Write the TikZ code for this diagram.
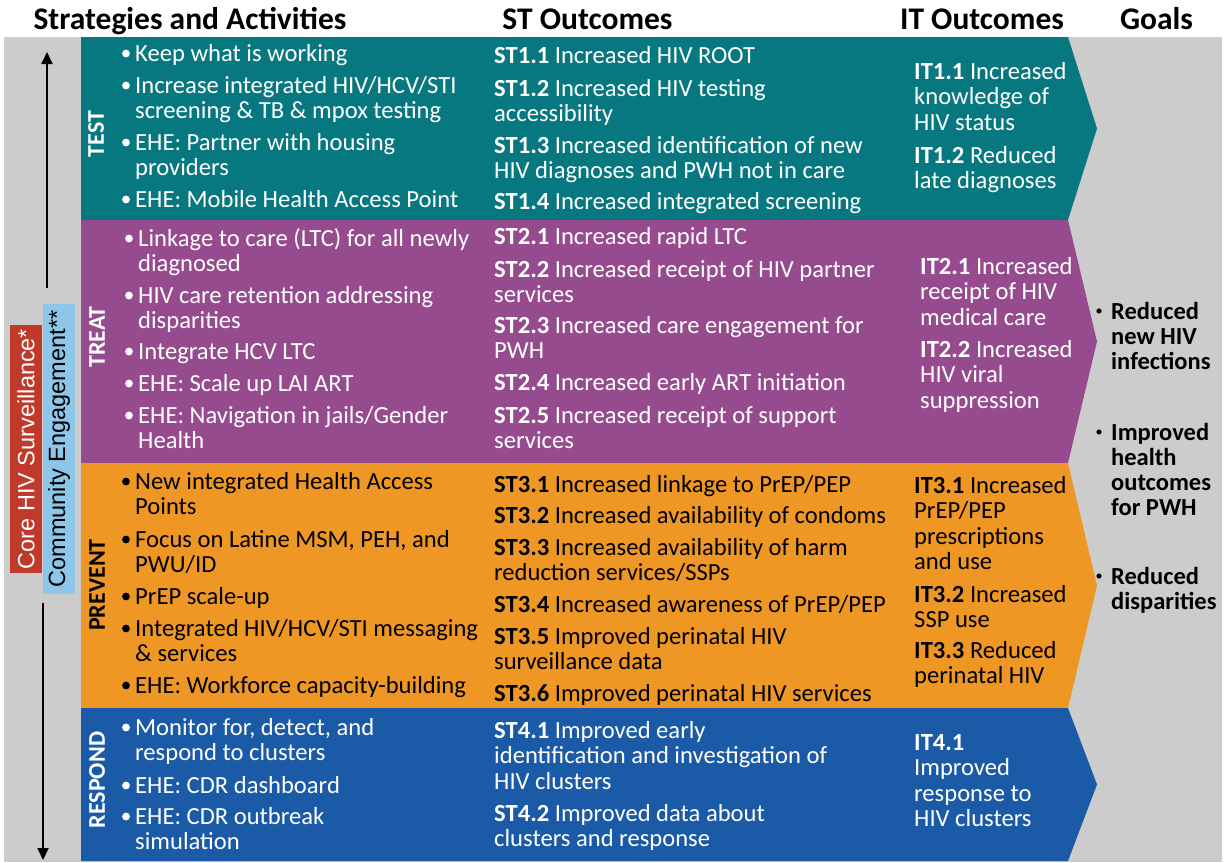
\documentclass[tikz,border=0pt]{standalone}
\usepackage{fontspec}
\setmainfont{Carlito}
\newfontfamily\arialf{Liberation Sans}
\usetikzlibrary{arrows.meta}
\definecolor{bggray}{RGB}{204,204,204}
\definecolor{bandteal}{RGB}{8,120,128}
\definecolor{bandpurple}{RGB}{151,75,143}
\definecolor{bandorange}{RGB}{239,151,36}
\definecolor{bandblue}{RGB}{26,90,166}
\definecolor{sidered}{RGB}{192,57,43}
\definecolor{sideblue}{RGB}{142,198,234}
\newcommand\bb[3]{\fill[#3] ({#1-9},{#2-7.5}) circle[radius=3.9pt];}
\newcommand\gb[2]{\fill[black] ({#1-12},{#2-8}) circle[radius=2.6pt];}
\newcommand\ml[1]{\vtop{\let\\\cr\halign{##\hfil\cr#1\crcr}}}
\tikzset{
  body/.style={anchor=base west, inner sep=0pt, font=\fontsize{24.6}{25.5}\selectfont},
  wtxt/.style={body, text=white},
  ktxt/.style={body, text=black},
  headtxt/.style={anchor=base, inner sep=0pt, font=\bfseries\fontsize{31.5}{32}\selectfont},
  bandlabel/.style={rotate=90, inner sep=0pt, font=\bfseries\fontsize{24}{24}\selectfont},
  goaltxt/.style={anchor=base west, inner sep=0pt, font=\bfseries\fontsize{24.5}{25}\selectfont},
  sidebox/.style={rotate=90, inner sep=0pt, minimum height=32pt, font=\arialf\fontsize{23.5}{24}\selectfont},
  vline/.style={line width=1.8pt, -{Triangle[length=12pt,width=11pt]}},
}
\begin{document}
\begin{tikzpicture}[x=1pt,y=-1pt]
\useasboundingbox (0,0) rectangle (1231,862);
\fill[white] (0,0) rectangle (1231,862);
\fill[bggray] (4,37) rectangle (1222,862);
% bands
\fill[bandteal] (81,37) -- (1068,37) -- (1097,128.5) -- (1068,220) -- (81,220) -- cycle;
\fill[bandpurple] (81,220) -- (1068,220) -- (1097,341.5) -- (1068,463) -- (81,463) -- cycle;
\fill[bandorange] (81,463) -- (1068,463) -- (1097,585.5) -- (1068,708) -- (81,708) -- cycle;
\fill[bandblue] (81,708) -- (1068,708) -- (1097,784.5) -- (1068,861) -- (81,861) -- cycle;
% headers
\node[headtxt] (h1) at (190,29) {Strategies and Activities};
\node[headtxt] (h2) at (587.5,29) {ST Outcomes};
\node[headtxt] (h3) at (982,29) {IT Outcomes};
\node[headtxt] (h4) at (1156.5,29) {Goals};
% side boxes and arrows
\node[sidebox, fill=sidered, text=white, minimum width=248pt] (surv) at (26,449) {Core HIV Surveillance*};
\node[sidebox, fill=sideblue, text=black, minimum width=290pt] (comm) at (59,449) {Community Engagement**};
\coordinate (upfrom) at (47,288);
\coordinate (upto) at (47,52);
\coordinate (dnfrom) at (43,603);
\coordinate (dnto) at (43,860);
\draw[vline] (upfrom) -- (upto);
\draw[vline] (dnfrom) -- (dnto);
% band labels
\node[bandlabel, text=white] (lTest) at (96,134) {TEST};
\node[bandlabel, text=white] (lTreat) at (97,337) {TREAT};
\node[bandlabel, text=black] (lPrev) at (97,585) {PREVENT};
\node[bandlabel, text=white] (lResp) at (97,780) {RESPOND};
% TEST strategies
\node[wtxt] (s11) at (135,61) {\ml{Keep what is working}}; \bb{135}{61}{white}
\node[wtxt] (s12) at (135,93) {\ml{Increase integrated HIV/HCV/STI\\screening \& TB \& mpox testing}}; \bb{135}{93}{white}
\node[wtxt] (s13) at (135,150) {\ml{EHE: Partner with housing\\providers}}; \bb{135}{150}{white}
\node[wtxt] (s14) at (135,207) {\ml{EHE: Mobile Health Access Point}}; \bb{135}{207}{white}
% TREAT strategies
\node[wtxt] (s21) at (138,246) {\ml{Linkage to care (LTC) for all newly\\diagnosed}}; \bb{138}{246}{white}
\node[wtxt] (s22) at (138,303) {\ml{HIV care retention addressing\\disparities}}; \bb{138}{303}{white}
\node[wtxt] (s23) at (138,359) {\ml{Integrate HCV LTC}}; \bb{138}{359}{white}
\node[wtxt] (s24) at (138,391) {\ml{EHE: Scale up LAI ART}}; \bb{138}{391}{white}
\node[wtxt] (s25) at (138,423) {\ml{EHE: Navigation in jails/Gender\\Health}}; \bb{138}{423}{white}
% PREVENT strategies
\node[ktxt] (s31) at (135,489) {\ml{New integrated Health Access\\Points}}; \bb{135}{489}{black}
\node[ktxt] (s32) at (135,547) {\ml{Focus on Latine MSM, PEH, and\\PWU/ID}}; \bb{135}{547}{black}
\node[ktxt] (s33) at (135,604) {\ml{PrEP scale-up}}; \bb{135}{604}{black}
\node[ktxt] (s34) at (135,636) {\ml{Integrated HIV/HCV/STI messaging\\\& services}}; \bb{135}{636}{black}
\node[ktxt] (s35) at (135,693) {\ml{EHE: Workforce capacity-building}}; \bb{135}{693}{black}
% RESPOND strategies
\node[wtxt] (s41) at (135,735) {\ml{Monitor for, detect, and\\respond to clusters}}; \bb{135}{735}{white}
\node[wtxt] (s42) at (135,793) {\ml{EHE: CDR dashboard}}; \bb{135}{793}{white}
\node[wtxt] (s43) at (135,824) {\ml{EHE: CDR outbreak\\simulation}}; \bb{135}{824}{white}
% ST outcomes
\node[wtxt] (st11) at (494,63) {\ml{\textbf{ST1.1} Increased HIV ROOT}};
\node[wtxt] (st12) at (494,96) {\ml{\textbf{ST1.2} Increased HIV testing\\accessibility}};
\node[wtxt] (st13) at (494,153) {\ml{\textbf{ST1.3} Increased identification of new\\HIV diagnoses and PWH not in care}};
\node[wtxt] (st14) at (494,209) {\ml{\textbf{ST1.4} Increased integrated screening}};
\node[wtxt] (st21) at (494,244) {\ml{\textbf{ST2.1} Increased rapid LTC}};
\node[wtxt] (st22) at (494,277) {\ml{\textbf{ST2.2} Increased receipt of HIV partner\\services}};
\node[wtxt] (st23) at (494,333) {\ml{\textbf{ST2.3} Increased care engagement for\\PWH}};
\node[wtxt] (st24) at (494,390) {\ml{\textbf{ST2.4} Increased early ART initiation}};
\node[wtxt] (st25) at (494,423) {\ml{\textbf{ST2.5} Increased receipt of support\\services}};
\node[ktxt] (st31) at (494,492) {\ml{\textbf{ST3.1} Increased linkage to PrEP/PEP}};
\node[ktxt] (st32) at (494,523) {\ml{\textbf{ST3.2} Increased availability of condoms}};
\node[ktxt] (st33) at (494,555) {\ml{\textbf{ST3.3} Increased availability of harm\\reduction services/SSPs}};
\node[ktxt] (st34) at (494,612) {\ml{\textbf{ST3.4} Increased awareness of PrEP/PEP}};
\node[ktxt] (st35) at (494,644) {\ml{\textbf{ST3.5} Improved perinatal HIV\\surveillance data}};
\node[ktxt] (st36) at (494,701) {\ml{\textbf{ST3.6} Improved perinatal HIV services}};
\node[wtxt] (st41) at (494,738) {\ml{\textbf{ST4.1} Improved early\\identification and investigation of\\HIV clusters}};
\node[wtxt] (st42) at (494,821) {\ml{\textbf{ST4.2} Improved data about\\clusters and response}};
% IT outcomes
\node[wtxt] (it11) at (914,79) {\ml{\textbf{IT1.1} Increased\\knowledge of\\HIV status}};
\node[wtxt] (it12) at (914,163) {\ml{\textbf{IT1.2} Reduced\\late diagnoses}};
\node[wtxt] (it21) at (920,274) {\ml{\textbf{IT2.1} Increased\\receipt of HIV\\medical care}};
\node[wtxt] (it22) at (920,357) {\ml{\textbf{IT2.2} Increased\\HIV viral\\suppression}};
\node[ktxt] (it31) at (914,493) {\ml{\textbf{IT3.1} Increased\\PrEP/PEP\\prescriptions\\and use}};
\node[ktxt] (it32) at (914,602) {\ml{\textbf{IT3.2} Increased\\SSP use}};
\node[ktxt] (it33) at (914,658) {\ml{\textbf{IT3.3} Reduced\\perinatal HIV}};
\node[wtxt] (it41) at (914,750) {\ml{\textbf{IT4.1}\\Improved\\response to\\HIV clusters}};
% Goals
\node[goaltxt] (g1) at (1111,319) {\ml{Reduced\\new HIV\\infections}}; \gb{1111}{319}
\node[goaltxt] (g2) at (1111,440) {\ml{Improved\\health\\outcomes\\for PWH}}; \gb{1111}{440}
\node[goaltxt] (g3) at (1111,584) {\ml{Reduced\\disparities}}; \gb{1111}{584}
\end{tikzpicture}
\end{document}
